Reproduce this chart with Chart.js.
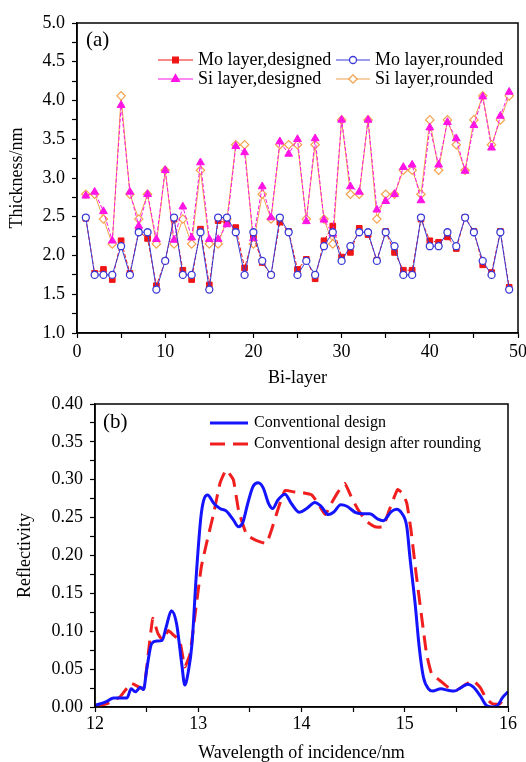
<!DOCTYPE html>
<html>
<head>
<meta charset="utf-8">
<script src="https://cdn.jsdelivr.net/npm/chart.js@4.4.0/dist/chart.umd.min.js"></script>
<style>
  html, body { margin: 0; padding: 0; background: #fff; overflow: hidden; }
  #boxA { position: absolute; left: 0; top: 0; }
  #boxB { position: absolute; left: 0; top: 390px; }
</style>
</head>
<body>
<div id="boxA"><canvas id="chartA" width="526" height="390"></canvas></div>
<div id="boxB"><canvas id="chartB" width="526" height="380"></canvas></div>
<script>
// ---------------------------------------------------------
// DATOS (a): espesor por bicapa
// ---------------------------------------------------------
const bilayer = [1,2,3,4,5,6,7,8,9,10,11,12,13,14,15,16,17,18,19,20,21,22,23,24,25,
                 26,27,28,29,30,31,32,33,34,35,36,37,38,39,40,41,42,43,44,45,46,47,48,49];

const moDesigned = [2.48,1.77,1.82,1.69,2.19,1.77,2.31,2.22,1.61,1.93,2.47,1.81,1.69,2.34,1.62,2.45,2.42,2.36,1.84,2.24,
                    1.91,1.75,2.43,2.31,1.82,1.95,1.70,2.19,2.38,1.98,2.04,2.35,2.27,1.94,2.31,2.04,1.81,1.81,2.47,2.19,
                    2.17,2.24,2.09,2.49,2.31,1.88,1.78,2.31,1.59];
const moRounded  = [2.49,1.75,1.75,1.75,2.12,1.75,2.30,2.30,1.56,1.93,2.49,1.75,1.75,2.30,1.56,2.49,2.49,2.30,1.75,2.30,
                    1.93,1.75,2.49,2.30,1.75,1.93,1.75,2.12,2.30,1.93,2.12,2.30,2.30,1.93,2.30,2.12,1.75,1.75,2.49,2.12,
                    2.12,2.30,2.12,2.49,2.30,1.93,1.75,2.30,1.56];
const siDesigned = [2.77,2.82,2.57,2.19,3.94,2.82,2.38,2.79,2.21,3.10,2.20,2.63,2.23,3.20,2.21,2.21,2.40,3.41,3.33,2.22,
                    2.89,2.49,3.47,3.31,3.50,2.44,3.51,2.46,2.28,3.75,2.89,2.82,3.75,2.59,2.70,2.79,3.14,3.17,2.71,3.65,
                    3.17,3.72,3.51,3.09,3.68,4.05,3.39,3.80,4.11];
const siRounded  = [2.79,2.79,2.47,2.15,4.06,2.79,2.47,2.79,2.15,3.10,2.15,2.47,2.15,3.10,2.15,2.15,2.47,3.43,3.43,2.15,
                    2.79,2.47,3.43,3.43,3.43,2.47,3.43,2.47,2.15,3.75,2.79,2.79,3.75,2.47,2.79,2.79,3.10,3.10,2.79,3.75,
                    3.10,3.75,3.43,3.10,3.75,4.06,3.43,3.75,4.06];

// ---------------------------------------------------------
// DATOS (b): reflectividad
// ---------------------------------------------------------
const convWl = [12.00,12.11,12.18,12.31,12.35,12.39,12.44,12.47,12.50,12.55,12.60,12.65,12.69,12.74,12.79,12.84,12.87,12.90,
                12.94,12.98,13.03,13.09,13.15,13.21,13.27,13.34,13.39,13.43,13.48,13.53,13.58,13.63,13.68,13.72,13.77,13.84,
                13.90,13.98,14.05,14.13,14.19,14.26,14.31,14.38,14.44,14.52,14.60,14.66,14.74,14.79,14.87,14.92,14.97,15.02,
                15.05,15.10,15.14,15.18,15.23,15.27,15.35,15.42,15.48,15.55,15.61,15.66,15.73,15.79,15.84,15.89,15.95,16.00];
const convR  = [0.002,0.007,0.012,0.012,0.024,0.020,0.026,0.023,0.049,0.084,0.087,0.088,0.106,0.127,0.110,0.057,0.029,0.044,
                0.084,0.172,0.256,0.280,0.269,0.262,0.259,0.247,0.238,0.243,0.269,0.291,0.296,0.289,0.269,0.262,0.273,0.281,
                0.269,0.257,0.262,0.270,0.265,0.254,0.257,0.267,0.265,0.257,0.255,0.255,0.248,0.246,0.258,0.261,0.256,0.238,
                0.198,0.137,0.079,0.040,0.024,0.021,0.024,0.022,0.021,0.026,0.030,0.027,0.015,0.002,0.000,0.001,0.013,0.020];

const roundWl = [12.00,12.11,12.24,12.35,12.47,12.52,12.56,12.61,12.66,12.71,12.76,12.82,12.87,12.92,12.97,13.03,13.08,13.15,
                 13.21,13.27,13.34,13.39,13.47,13.56,13.66,13.71,13.77,13.84,13.92,14.01,14.10,14.16,14.23,14.29,14.35,14.42,
                 14.48,14.55,14.63,14.71,14.79,14.85,14.93,14.98,15.02,15.06,15.11,15.16,15.21,15.26,15.34,15.42,15.50,15.58,
                 15.66,15.73,15.79,15.85,15.92,15.98];
const roundR  = [0.000,0.004,0.013,0.031,0.024,0.075,0.117,0.097,0.088,0.101,0.095,0.088,0.053,0.070,0.123,0.185,0.216,0.256,
                 0.295,0.313,0.300,0.260,0.227,0.220,0.216,0.234,0.260,0.286,0.284,0.283,0.280,0.269,0.254,0.269,0.283,0.295,
                 0.278,0.260,0.245,0.238,0.238,0.260,0.287,0.282,0.269,0.234,0.176,0.123,0.071,0.044,0.035,0.026,0.022,0.029,
                 0.035,0.026,0.011,0.004,0.004,0.015];

// ---------------------------------------------------------
// ESTILOS
// ---------------------------------------------------------
const SERIF  = '"Liberation Serif", "DejaVu Serif", serif';
const RED    = '#f01414';
const MAG    = '#ff14e6';
const BLUE   = '#3a3ad8';
const ORANGE = '#f4a24c';

const xy = (xs, ys) => xs.map((x, i) => ({ x: x, y: ys[i] }));
const isMult = (v, s) => Math.abs(v / s - Math.round(v / s)) < 1e-6;

// marco + leyenda + etiqueta de panel
function decor(cfg) {
    return {
        id: 'decor',
        afterDraw(chart) {
            const { ctx, chartArea: a } = chart;
            ctx.save();
            ctx.strokeStyle = '#000';
            ctx.lineWidth = 1.5;
            ctx.setLineDash([]);
            ctx.strokeRect(a.left, a.top, a.right - a.left, a.bottom - a.top);

            ctx.fillStyle = '#000';
            ctx.textBaseline = 'middle';
            ctx.textAlign = 'left';
            ctx.font = '21px ' + SERIF;
            ctx.fillText(cfg.panel, cfg.panelX, cfg.panelY);

            ctx.font = cfg.fontSize + 'px ' + SERIF;
            cfg.items.forEach(it => {
                ctx.strokeStyle = it.color;
                ctx.lineWidth = it.width;
                ctx.setLineDash(it.dash || []);
                ctx.beginPath();
                ctx.moveTo(it.x0, it.y);
                ctx.lineTo(it.x1, it.y);
                ctx.stroke();
                ctx.setLineDash([]);
                if (it.marker) {
                    ctx.fillStyle = it.marker.fill;
                    ctx.strokeStyle = it.marker.stroke;
                    ctx.lineWidth = 1.3;
                    Chart.helpers.drawPoint(ctx, { pointStyle: it.marker.style, radius: it.marker.radius, rotation: 0, borderWidth: 1.3 },
                        (it.x0 + it.x1) / 2, it.y);
                }
                ctx.fillStyle = '#000';
                ctx.fillText(it.text, it.tx, it.y);
            });
            ctx.restore();
        }
    };
}

function axisX(min, max, step, labelStep, title, height, titlePad, tickPad) {
    return {
        type: 'linear', min: min, max: max,
        border: { display: true, color: '#000', width: 1.5 },
        grid: { drawOnChartArea: false, color: '#000', tickLength: 5, tickWidth: 1.2 },
        ticks: {
            stepSize: step, autoSkip: false, maxRotation: 0, maxTicksLimit: 100, padding: tickPad,
            color: '#000', font: { family: SERIF, size: 18 },
            callback: v => isMult(v, labelStep) ? String(v) : ''
        },
        title: { display: true, text: title, color: '#000', font: { family: SERIF, size: 18 }, padding: { top: 0, bottom: titlePad } },
        afterFit: s => { s.height = height; s.paddingLeft = 0; s.paddingRight = 0; }
    };
}

function axisY(min, max, step, labelStep, digits, title, width, titlePad) {
    return {
        type: 'linear', min: min, max: max,
        border: { display: true, color: '#000', width: 1.5 },
        grid: { drawOnChartArea: false, color: '#000', tickLength: 5, tickWidth: 1.2 },
        ticks: {
            stepSize: step, autoSkip: false, maxTicksLimit: 100, padding: 7,
            color: '#000', font: { family: SERIF, size: 18 },
            callback: v => isMult(v, labelStep) ? v.toFixed(digits) : ''
        },
        title: { display: true, text: title, color: '#000', font: { family: SERIF, size: 18 }, padding: { top: titlePad, bottom: 0 } },
        afterFit: s => { s.width = width; s.paddingTop = 0; s.paddingBottom = 0; }
    };
}

// ---------------------------------------------------------
// (a) Thickness
// ---------------------------------------------------------
new Chart(document.getElementById('chartA'), {
    type: 'line',
    data: {
        datasets: [
            { label: 'Mo layer,rounded', data: xy(bilayer, moRounded), borderColor: BLUE, borderWidth: 1,
              pointStyle: 'circle', pointRadius: 3.5, pointBackgroundColor: '#fff', pointBorderColor: BLUE, pointBorderWidth: 1.3 },
            { label: 'Si layer,designed', data: xy(bilayer, siDesigned), borderColor: MAG, borderWidth: 1, borderDash: [4, 2],
              pointStyle: 'triangle', pointRadius: 4.5, pointBackgroundColor: MAG, pointBorderColor: MAG, pointBorderWidth: 1 },
            { label: 'Mo layer,designed', data: xy(bilayer, moDesigned), borderColor: RED, borderWidth: 1, borderDash: [4, 2],
              pointStyle: 'rect', pointRadius: 4, pointBackgroundColor: RED, pointBorderColor: RED, pointBorderWidth: 1 },
            { label: 'Si layer,rounded', data: xy(bilayer, siRounded), borderColor: ORANGE, borderWidth: 1,
              pointStyle: 'rectRot', pointRadius: 4.2, pointBackgroundColor: '#fff', pointBorderColor: ORANGE, pointBorderWidth: 1.2 }
        ]
    },
    options: {
        responsive: false, animation: false,
        layout: { padding: { left: 0, right: 8, top: 23, bottom: 0 } },
        plugins: { legend: { display: false }, tooltip: { enabled: false } },
        scales: {
            x: axisX(0, 50, 5, 10, 'Bi-layer', 57, 1, 3),
            y: axisY(1, 5, 0.25, 0.5, 1, 'Thickness/nm', 77, 6)
        }
    },
    plugins: [decor({
        panel: '(a)', panelX: 86, panelY: 40, fontSize: 18,
        items: [
            { x0: 158, x1: 193, y: 60, color: RED, width: 1.2, marker: { style: 'rect', radius: 4, fill: RED, stroke: RED }, text: 'Mo layer,designed', tx: 198 },
            { x0: 336, x1: 370, y: 60, color: BLUE, width: 1.2, marker: { style: 'circle', radius: 3.5, fill: '#fff', stroke: BLUE }, text: 'Mo layer,rounded', tx: 375 },
            { x0: 158, x1: 193, y: 79, color: MAG, width: 1.2, marker: { style: 'triangle', radius: 4.5, fill: MAG, stroke: MAG }, text: 'Si layer,designed', tx: 198 },
            { x0: 336, x1: 370, y: 79, color: ORANGE, width: 1.2, marker: { style: 'rectRot', radius: 4.2, fill: '#fff', stroke: ORANGE }, text: 'Si layer,rounded', tx: 375 }
        ]
    })]
});

// ---------------------------------------------------------
// (b) Reflectivity
// ---------------------------------------------------------
new Chart(document.getElementById('chartB'), {
    type: 'line',
    data: {
        datasets: [
            { label: 'Conventional design', data: xy(convWl, convR), borderColor: '#1414ff', borderWidth: 3,
              pointRadius: 0, cubicInterpolationMode: 'monotone' },
            { label: 'Conventional design after rounding', data: xy(roundWl, roundR), borderColor: '#f01e1e', borderWidth: 3,
              borderDash: [15, 8], pointRadius: 0, tension: 0.12 }
        ]
    },
    options: {
        responsive: false, animation: false,
        layout: { padding: { left: 0, right: 18, top: 14, bottom: 0 } },
        plugins: { legend: { display: false }, tooltip: { enabled: false } },
        scales: {
            x: axisX(12, 16, 0.5, 1, 'Wavelength of incidence/nm', 63, 6, 1),
            y: axisY(0, 0.4, 0.025, 0.05, 2, 'Reflectivity', 95, 14)
        }
    },
    plugins: [decor({
        panel: '(b)', panelX: 103, panelY: 32, fontSize: 16,
        items: [
            { x0: 210, x1: 248, y: 33, color: '#1414ff', width: 3, text: 'Conventional design', tx: 254 },
            { x0: 210, x1: 248, y: 54, color: '#f01e1e', width: 3, dash: [15, 8], text: 'Conventional design after rounding', tx: 254 }
        ]
    })]
});
</script>
</body>
</html>
